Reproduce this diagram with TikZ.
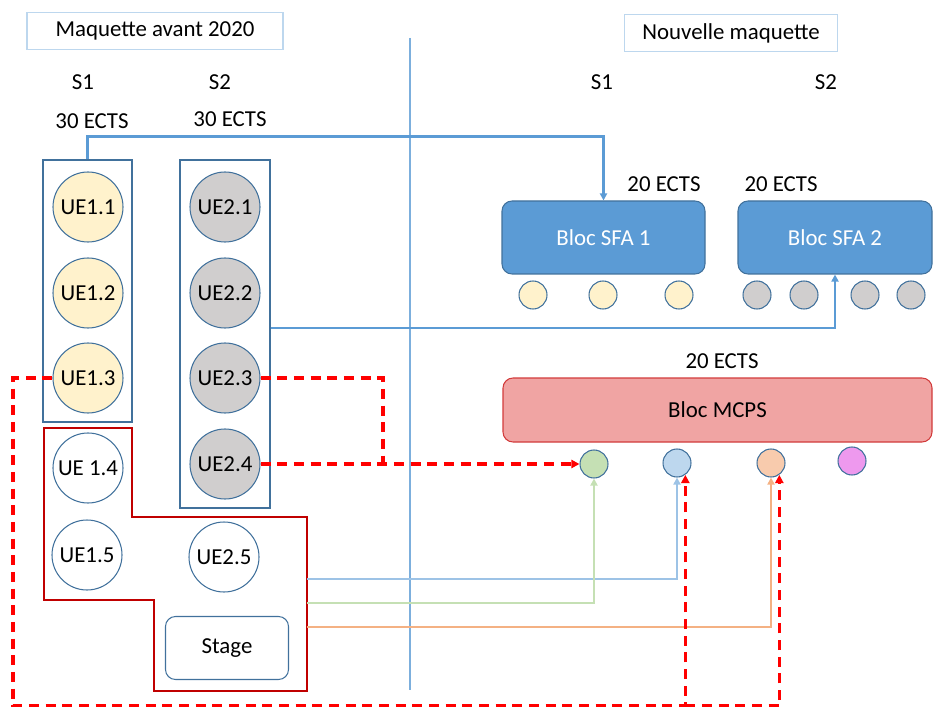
\documentclass[tikz,border=0pt]{standalone}
\usepackage{fontspec}
\setmainfont{Carlito}
\usetikzlibrary{arrows.meta, positioning, calc}
\definecolor{uebord}{HTML}{41719C}
\definecolor{ueun}{HTML}{FFF2CC}
\definecolor{uedeux}{HTML}{D0CECE}
\definecolor{sfableu}{HTML}{5B9BD5}
\definecolor{mcpsrose}{HTML}{F0A4A3}
\definecolor{mcpsbord}{HTML}{D23B3B}
\definecolor{stagerouge}{HTML}{C00000}
\definecolor{titrebord}{HTML}{BDD7EE}
\definecolor{lienbleu}{HTML}{9DC3E6}
\definecolor{lienvert}{HTML}{C5E0B4}
\definecolor{lienorange}{HTML}{F4B183}
\definecolor{pastelvert}{HTML}{C5E0B4}
\definecolor{pastelbleu}{HTML}{BDD7EE}
\definecolor{pastelorange}{HTML}{F8CBAD}
\definecolor{pastelviolet}{HTML}{EE99EE}
\definecolor{rougetiret}{HTML}{FF0000}

\begin{document}
\begin{tikzpicture}[x=0.3mm, y=-0.3mm,
    font=\fontsize{19.5}{23}\selectfont,
    ue/.style={circle, draw=uebord, line width=0.9pt, inner sep=0pt, minimum size=21mm},
    pastille/.style={circle, draw=uebord, line width=0.9pt, inner sep=0pt, minimum size=8.4mm},
    bloc/.style={draw=uebord, line width=0.9pt, rounded corners=3mm, inner sep=0pt},
    titre/.style={draw=titrebord, line width=0.9pt, inner sep=0pt, minimum height=11.1mm},
    lien/.style={sfableu, line width=2pt, -{Triangle[length=6pt,width=6pt]}},
    tiret/.style={rougetiret, line width=2.6pt, dash pattern=on 3mm off 2mm, -{Triangle[length=7pt,width=7pt]}},
    pastel/.style={line width=2.2pt, -{Triangle[length=6pt,width=6pt]}},
]
    \useasboundingbox (0,0) rectangle (933,707);

    % Titres et separation
    \node[titre, minimum width=76.8mm] (avant) at (155,31) {Maquette avant 2020};
    \node[titre, minimum width=63.9mm] (nouvelle) at (731,33) {Nouvelle maquette};
    \draw[sfableu!80, line width=1.1pt] (410,38) -- (410,690);

    \node (sun) at (83,82) {S1};
    \node (sdeux) at (220,82) {S2};
    \node (ectsun) at (92,121) {30 ECTS};
    \node (ectsdeux) at (230,119) {30 ECTS};
    \node (nsun) at (602,82) {S1};
    \node (nsdeux) at (826,82) {S2};

    % Ancienne maquette
    \node[draw=uebord, line width=0.9pt, minimum width=26.7mm, minimum height=78.6mm, inner sep=0pt] (boiteSun) at (87.5,291) {};
    \node[draw=uebord, line width=0.9pt, minimum width=27mm, minimum height=104.4mm, inner sep=0pt] (boiteSdeux) at (225,334) {};
    \foreach \i/\y in {1/207,2/293,3/378} {
        \node[ue, fill=ueun] (ue1\i) at (88,\y) {UE1.\i};
    }
    \foreach \i/\y in {1/207,2/293,3/378,4/464} {
        \node[ue, fill=uedeux] (ue2\i) at (225,\y) {UE2.\i};
    }
    \draw[stagerouge, line width=1.4pt] (44,428) -- (132,428) -- (132,517) -- (307,517) -- (307,691) -- (154,691) -- (154,600) -- (44,600) -- cycle;
    \node[ue, fill=white] (ue14) at (88,468) {UE 1.4};
    \node[ue, fill=white] (ue15) at (87,555) {UE1.5};
    \node[ue, fill=white] (ue25) at (224,557) {UE2.5};
    \node[bloc, minimum width=36.9mm, minimum height=18.9mm] (stage) at (227,648) {Stage};
    \coordinate (depbleu) at (307,579);
    \coordinate (depvert) at (307,603);
    \coordinate (deporange) at (307,627);

    % Nouvelle maquette
    \node[bloc, fill=sfableu, text=white, minimum width=60.9mm, minimum height=21.9mm] (sfaun) at (603.5,237.5) {Bloc SFA 1};
    \node[bloc, fill=sfableu, text=white, minimum width=58.2mm, minimum height=21.9mm] (sfadeux) at (835,237.5) {Bloc SFA 2};
    \node[bloc, draw=mcpsbord, fill=mcpsrose, minimum width=128.7mm, minimum height=19.2mm] (mcps) at (717.5,410) {Bloc MCPS};
    \node (ectssfaun) at (664,184) {20 ECTS};
    \node (ectssfadeux) at (781,184) {20 ECTS};
    \node (ectsmcps) at (722,361) {20 ECTS};

    \foreach \x [count=\k] in {533,603,679} {
        \node[pastille, fill=ueun] (pun\k) at (\x,295) {};
    }
    \foreach \x [count=\k] in {757,804,865,911} {
        \node[pastille, fill=uedeux] (pdeux\k) at (\x,295) {};
    }
    \node[pastille, fill=pastelvert] (vert) at (594,464) {};
    \node[pastille, fill=pastelbleu] (bleu) at (677,463) {};
    \node[pastille, fill=pastelorange] (orange) at (771,463) {};
    \node[pastille, fill=pastelviolet] (violet) at (852,461) {};

    % Liens
    \draw[lien] (boiteSun.north) -- ++(0,-23) -| (sfaun.north);
    \draw[lien] (boiteSdeux.east |- 0,328) -| (sfadeux.south);

    \draw[pastel, lienbleu] (depbleu) -| (bleu.south);
    \draw[pastel, lienvert] (depvert) -| (vert.south);
    \draw[pastel, lienorange] (deporange) -| (orange.south);

    \coordinate (coude) at (383,464);
    \coordinate (coin) at (13,706);
    \draw[tiret, -] (ue23.east) -| (coude);
    \draw[tiret] (ue24.east) -- (vert.west);
    \draw[tiret] (ue13.west) -| (coin) -| (bleu.-55);
    \draw[tiret] (bleu.-55 |- coin) -| (orange.-55);
\end{tikzpicture}
\end{document}
